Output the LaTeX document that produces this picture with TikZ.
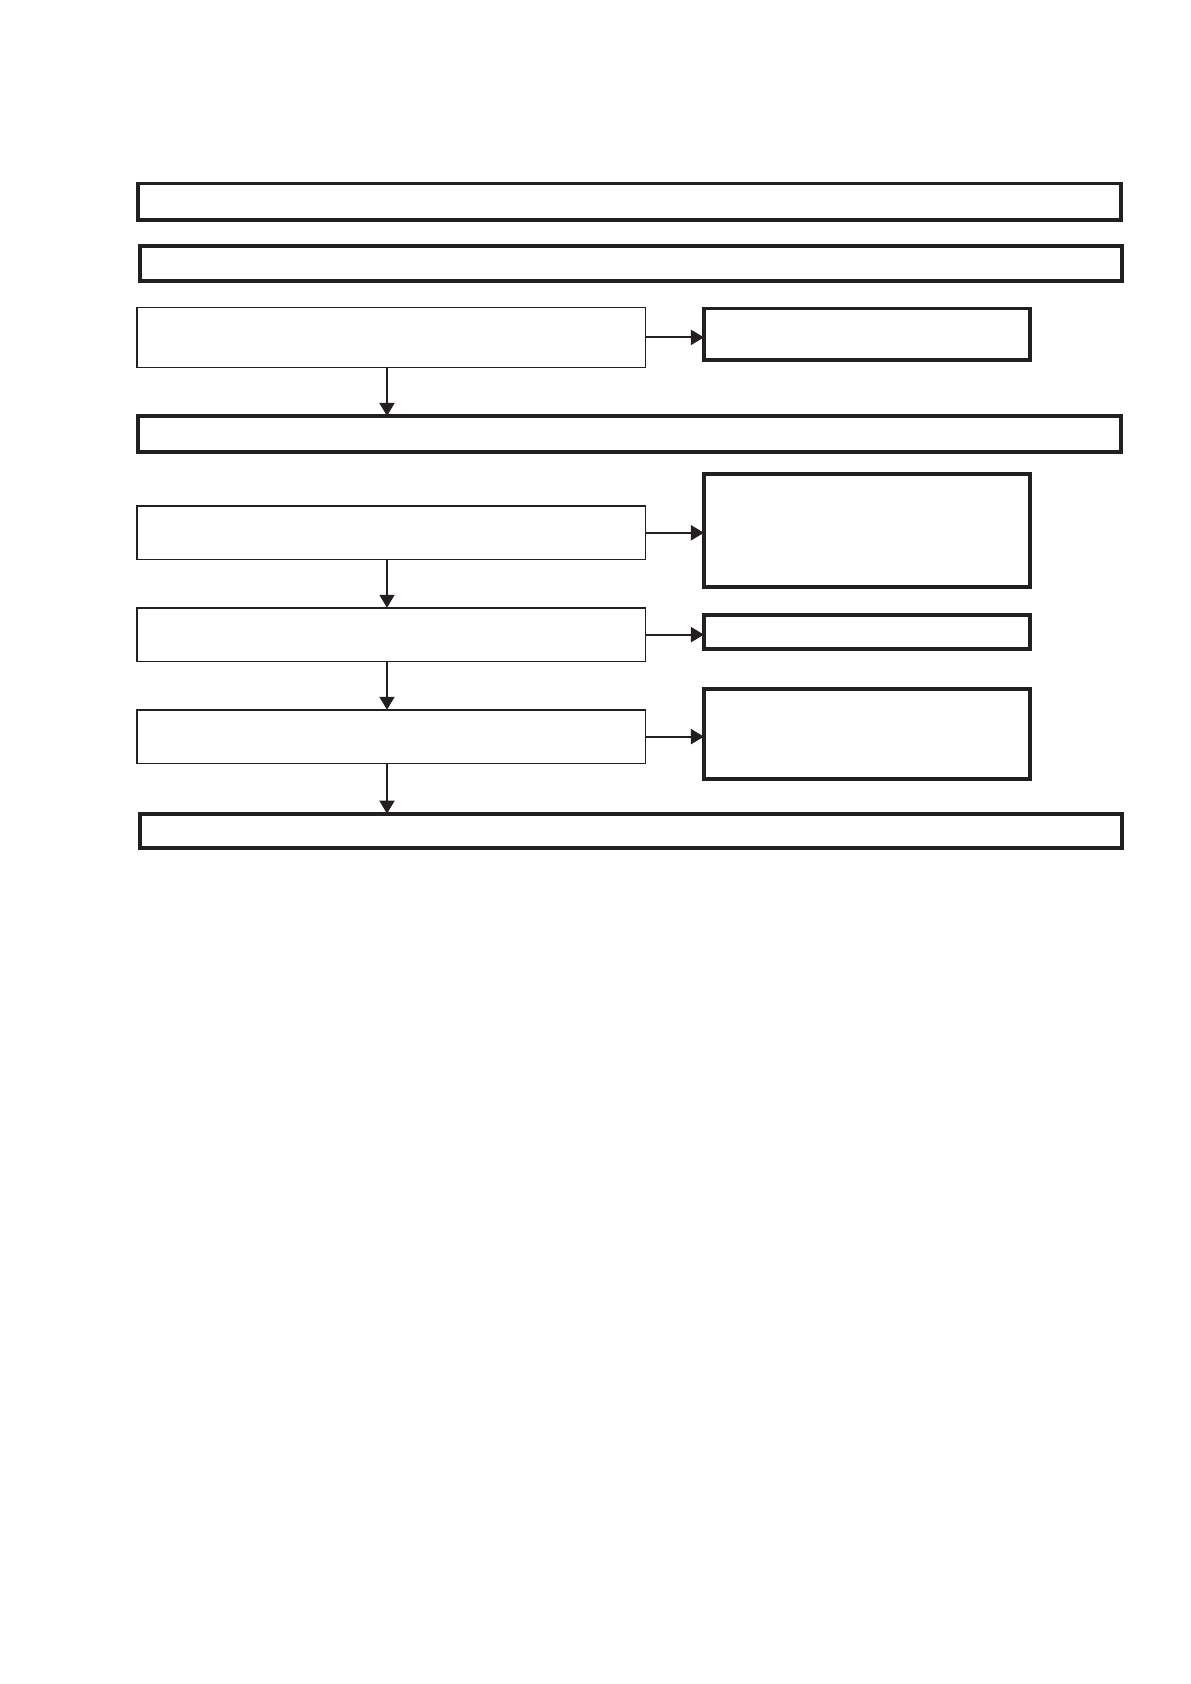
\documentclass[tikz,border=0pt]{standalone}
\usetikzlibrary{arrows.meta}
\definecolor{ink}{HTML}{231F20}
\begin{document}
\begin{tikzpicture}[x=1pt,y=-1pt,
  thickbox/.style={draw=ink,line width=3.9pt,rectangle,inner sep=0pt,outer sep=0pt},
  thinbox/.style={draw=ink,line width=1.5pt,rectangle,inner sep=0pt,outer sep=0pt},
  arr/.style={draw=ink,line width=1.9pt,-{Triangle[length=13pt,width=15pt]}}]
\useasboundingbox[fill=white] (0,0) rectangle (1191,1684);
% full-width boxes
\node[thickbox,minimum width=983.1pt,minimum height=36.1pt] (B1) at (629.5,201.5) {};
\node[thickbox,minimum width=982.1pt,minimum height=35.1pt] (B2) at (631,263.8) {};
\node[thickbox,minimum width=983.1pt,minimum height=36.4pt] (B4) at (629.5,434.15) {};
\node[thickbox,minimum width=982.1pt,minimum height=34.4pt] (B8) at (631,830.85) {};
% left thin boxes
\node[thinbox,minimum width=508.5pt,minimum height=60.3pt] (B3) at (391,337.4) {};
\node[thinbox,minimum width=508.5pt,minimum height=53.5pt] (B5) at (391,532.8) {};
\node[thinbox,minimum width=508.5pt,minimum height=53.8pt] (B6) at (391,634.65) {};
\node[thinbox,minimum width=508.5pt,minimum height=53.8pt] (B7) at (391,736.65) {};
% right thick boxes
\node[thickbox,minimum width=326.1pt,minimum height=51.6pt] (R1) at (867,334.25) {};
\node[thickbox,minimum width=326.1pt,minimum height=113.1pt] (R2) at (867,530.5) {};
\node[thickbox,minimum width=326.1pt,minimum height=34.4pt] (R3) at (867,631.85) {};
\node[thickbox,minimum width=326.1pt,minimum height=90.4pt] (R4) at (867,733.85) {};
% connectors
\coordinate (ax) at (387,0);
\draw[arr] (B3.south -| ax) -- (B4.north -| ax);
\draw[arr] (B5.south -| ax) -- (B6.north -| ax);
\draw[arr] (B6.south -| ax) -- (B7.north -| ax);
\draw[arr] (B7.south -| ax) -- (B8.north -| ax);
\draw[arr] (B3.east) -- (B3.east -| R1.west);
\draw[arr] (B5.east) -- (B5.east -| R2.west);
\draw[arr] (B6.east) -- (B6.east -| R3.west);
\draw[arr] (B7.east) -- (B7.east -| R4.west);
\end{tikzpicture}
\end{document}
